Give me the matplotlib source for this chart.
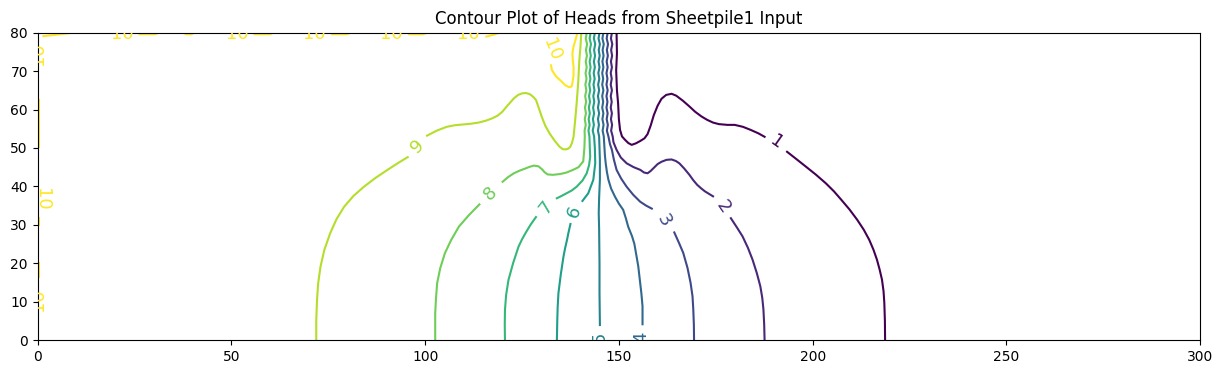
import matplotlib
matplotlib.use('Agg')
from matplotlib import pyplot as plt
from matplotlib.colors import Normalize

# contour levels of head
levels = [1, 2, 3, 4, 5, 6, 7, 8, 9, 10]

# wavy part of the lines along the sheet pile (shared y values)
wave_y = [80, 78.5, 77, 75.5, 74, 72.5, 71, 69.5, 68, 66.5, 65, 63.5, 62, 60.5, 59, 57.5, 56, 54.5, 53]
x8w = [141.7, 141.45, 141.8, 141.5, 141.75, 141.45, 141.7, 141.4, 141.65, 141.35, 141.6, 141.3, 141.55, 141.25, 141.5, 141.2, 141.45, 141.15, 141.2]
x7w = [142.7, 142.45, 142.8, 142.5, 142.75, 142.45, 142.7, 142.4, 142.65, 142.35, 142.6, 142.3, 142.55, 142.25, 142.5, 142.2, 142.45, 142.15, 142.4]
x6w = [143.8, 143.55, 143.9, 143.6, 143.85, 143.55, 143.8, 143.5, 143.75, 143.45, 143.7, 143.4, 143.65, 143.35, 143.6, 143.3, 143.55, 143.25, 143.6]
x5w = [145.0, 144.75, 145.1, 144.8, 145.05, 144.75, 145.0, 144.7, 144.95, 144.65, 144.9, 144.6, 144.85, 144.6, 144.9, 144.6, 144.85, 144.6, 144.9]
x4w = [146.0, 145.75, 146.1, 145.8, 146.05, 145.75, 146.0, 145.7, 145.95, 145.7, 146.0, 145.7, 145.95, 145.7, 146.0, 145.75, 146.05, 145.8, 146.1]
x3w = [147.1, 146.85, 147.2, 146.9, 147.15, 146.85, 147.1, 146.8, 147.05, 146.8, 147.1, 146.8, 147.05, 146.8, 147.1, 146.85, 147.15, 146.9, 147.3]
x2w = [148.2, 147.95, 148.3, 148.0, 148.25, 147.95, 148.2, 147.9, 148.15, 147.9, 148.2, 147.9, 148.15, 147.9, 148.2, 147.95, 148.25, 148.0, 148.4]

# rest of each contour, as (x, y) pieces split where the labels sit
c1 = [
    [(149.4, 80), (149.5, 74.6), (149.3, 70.2), (149.5, 65), (149.8, 61.6), (150, 57.5), (150.3, 54.7),
     (150.8, 53), (151.6, 52.1), (152.4, 51.3), (153.3, 50.8), (154.4, 51.2), (155.5, 51.8), (156.6, 52.5),
     (157.4, 53.6), (158.2, 55.8), (159, 58.5), (160, 61), (161, 62.8), (162.2, 63.8), (163.6, 64.1),
     (164.8, 63.6), (166.5, 62.3), (168.2, 60.8), (169.7, 59.4), (171.3, 58.2), (172.8, 57.3), (174.3, 56.6),
     (175.8, 56.2), (178, 56), (179.9, 56), (182, 55.5), (184, 54.7), (186, 53.8), (187.6, 52.9)],
    [(193.4, 49), (195.8, 47.1), (198.3, 45.1), (200.9, 43), (203.4, 40.8), (205.5, 38.7), (207.4, 36.5),
     (209.5, 34), (211.5, 31.3), (213.2, 28.7), (214.6, 26.1), (215.7, 23.5), (216.6, 20.9), (217.3, 18.3),
     (217.9, 15.7), (218.3, 12.7), (218.5, 9.7), (218.65, 5), (218.7, 0)],
]
c2 = [
    [(148.4, 53), (148.6, 51.5), (149.4, 49.5), (150.5, 47.5), (152, 46), (153.8, 45), (155.5, 44.3),
     (156.5, 43.6), (157.4, 43.4), (158.2, 44), (159, 44.8), (160, 45.8), (161, 46.4), (162.3, 46.9),
     (163.6, 47), (164.7, 46.6), (165.6, 46), (166.9, 44.6), (168.2, 43), (169.2, 41.6), (170.2, 40.4),
     (171.2, 39.5), (172.2, 38.7), (174.3, 37.4)],
    [(178.9, 31.7), (180.4, 29.4), (181.9, 27), (183.3, 24), (184.5, 20.9), (185.6, 17.4), (186.5, 14),
     (187, 11), (187.3, 8), (187.5, 4), (187.6, 0)],
]
c3 = [
    [(147.3, 53), (147.7, 51), (148.2, 49.5), (148.7, 47), (149.4, 44.3), (150.6, 42), (152, 39.9),
     (153.7, 37.8), (155.5, 36), (157, 35), (158.5, 34.2)],
    [(164.3, 28), (165.5, 25.3), (166.6, 22.7), (167.7, 18.8), (168.5, 14.9), (169, 11.4), (169.2, 8),
     (169.35, 4), (169.4, 0)],
]
c4 = [
    [(146.1, 53), (146.4, 48), (146.6, 46), (146.9, 43.8), (147.3, 41.7), (148, 39.4), (149, 37.3),
     (150, 35.5), (151.1, 33.9), (151.8, 31.7), (152.4, 29.5), (153.4, 27), (154, 25), (154.4, 22.7),
     (155, 19.2), (155.4, 15.7), (155.8, 12.2), (156.1, 8.8), (156.1, 4.1)],
]
c5 = [
    [(144.9, 53), (145, 50), (145.1, 46.9), (145.1, 41.7), (144.9, 37), (144.8, 33), (144.9, 29), (145, 20),
     (145, 12.2), (145.1, 3.9)],
]
c6 = [
    [(143.6, 53), (143.8, 50), (143.9, 46), (143.4, 41.7), (142.1, 38.2), (140.6, 36.2)],
    [(137.5, 30.2), (137, 28), (136.6, 26), (136.1, 23.8), (135.7, 21.7), (135, 17), (134.4, 12.2),
     (134.2, 8.5), (134.1, 5), (134, 0)],
]
c7 = [
    [(142.4, 53), (142.5, 50), (142.6, 47.7), (142.3, 45.5), (141.7, 43.4), (140.6, 41.5), (139.1, 39.9),
     (137.8, 38.9), (136.5, 38.2), (135.2, 37.5), (134, 36.9)],
    [(128.6, 32), (127.2, 30), (126, 28), (125, 26.2), (124.1, 24.3), (122.7, 20), (121.5, 15.6),
     (120.9, 11.7), (120.6, 7.8), (120.55, 4), (120.6, 0)],
]
c8 = [
    [(141.2, 53), (141.1, 50), (140.8, 46.5), (139.6, 45), (138.2, 44.3), (136.5, 43.6), (134.8, 43.2),
     (133, 43), (131.6, 43.1), (130.8, 43.7), (130.3, 44.3), (129.3, 45.2), (128.1, 45.4), (127, 45.1),
     (126, 44.7), (124.4, 44.1), (122.9, 43.4), (121.4, 42.4), (120, 41.2)],
    [(114, 35.3), (111.2, 32.4), (108.7, 29.5), (106.7, 26), (105.1, 22.6), (103.9, 18.7), (103.1, 14.8),
     (102.8, 10.8), (102.6, 6.9), (102.6, 0)],
]
c9 = [
    [(71.9, 0), (71.9, 5), (72.1, 10.4), (72.4, 14.8), (73, 19.1), (74, 23.5), (75.5, 27.8), (77.1, 31.4),
     (79.1, 34.7), (81.5, 37.5), (84.2, 39.9), (87.2, 42.2), (90.3, 44.3), (92.9, 46), (95.5, 47.6)],
    [(100.5, 53.2), (103, 54.5), (105.6, 55.5), (107.6, 55.9), (109.7, 56.1), (111.8, 56.3), (113.8, 56.6),
     (115.7, 57.1), (117.3, 57.7), (118.7, 58.4), (119.9, 59.4), (121.4, 61.2), (122.9, 62.9), (124, 63.8),
     (125, 64.2), (126, 64.3), (127, 64), (127.9, 63.3), (128.6, 62.5), (129.3, 60.5), (130.1, 58.1),
     (131, 55.8), (132.1, 53.8), (133.4, 51.9), (134.7, 50.3), (135.5, 49.7), (136.2, 49.6), (136.9, 49.8),
     (137.4, 50.2), (137.9, 51.3), (138.3, 52.9), (138.7, 57), (139.1, 61.6), (139.5, 67), (139.8, 72.9),
     (140.1, 76.5), (140.3, 80)],
]
c10 = [
    [(1.5, 79.1), (9.2, 80.0), (17.5, 80.1)],
    [(26.3, 79.6), (30.2, 79.6), (32, 80.2), (37.5, 80.2), (38.3, 79.6), (39.8, 79.6), (40.5, 80.2), (46.5, 80.2)],
    [(56, 79.6), (59.8, 79.6), (61.5, 80.2), (66.5, 80.2)],
    [(76, 79.6), (79.7, 79.6), (81.5, 80.2), (86.5, 80.2)],
    [(95.9, 79.6), (99.5, 79.6), (101, 80.2), (106.5, 80.2)],
    [(115.8, 79.0), (117.8, 79.5), (119.4, 80.1)],
    [(132.5, 71.5), (132.7, 70.3), (133.8, 68.6), (135.2, 67.3), (136.2, 66.3), (137.2, 65.8), (137.8, 66),
     (138, 66.8), (138.3, 68.9), (138.3, 71.1), (138.1, 73), (138, 74.6), (138.3, 76.4), (138.8, 78.1),
     (139.3, 80)],
    [(0.25, 62.5), (0.25, 50.3)],
    [(0.25, 31.8), (0.25, 30)],
    [(0.25, 20), (0.25, 16.4)],
]

# label (x, y, rotation) per level
lab1 = [(190.6, 51.4, -35)]
lab2 = [(176.8, 34.6, -55)]
lab3 = [(161.6, 31.2, -60)]
lab4 = [(155.8, 0.6, 90)]
lab5 = [(144.9, 0.6, 90)]
lab6 = [(138.6, 33.4, 68)]
lab7 = [(131.2, 34.6, 52)]
lab8 = [(116.9, 38.2, 45)]
lab9 = [(98.0, 50.4, 45)]
lab10 = [(21.9, 79.7, 0), (51.5, 79.7, 0), (71.4, 79.7, 0), (91.3, 79.7, 0), (111.2, 79.7, 0),
         (132.6, 75.5, -68), (0.2, 74.5, 90), (1.0, 36.5, -90), (0.2, 10.5, 90)]

waves = {8: x8w, 7: x7w, 6: x6w, 5: x5w, 4: x4w, 3: x3w, 2: x2w}
pieces = {1: c1, 2: c2, 3: c3, 4: c4, 5: c5, 6: c6, 7: c7, 8: c8, 9: c9, 10: c10}
labels = {1: lab1, 2: lab2, 3: lab3, 4: lab4, 5: lab5, 6: lab6, 7: lab7, 8: lab8, 9: lab9, 10: lab10}


def plot():
    fig = plt.figure(figsize=(12.22, 3.74), dpi=100)
    ax = fig.add_axes([0.0308, 0.0909, 0.9513, 0.8217])
    cmap = plt.get_cmap('viridis')
    norm = Normalize(vmin=levels[0], vmax=levels[-1])

    for lev in levels:
        col = cmap(norm(lev))
        segs = pieces[lev]
        for i, seg in enumerate(segs):
            xs = [p[0] for p in seg]
            ys = [p[1] for p in seg]
            # the wavy top part joins on to the first piece
            if i == 0 and lev in waves:
                xs = waves[lev] + xs
                ys = wave_y + ys
            ax.plot(xs, ys, color=col, lw=1.5)
        for (x, y, r) in labels[lev]:
            ax.text(x, y, str(lev), color=col, fontsize=13, rotation=r,
                    rotation_mode='anchor', ha='center', va='center', clip_on=True)

    ax.set_xlim(0, 300)
    ax.set_ylim(0, 80)
    ax.set_title('Contour Plot of Heads from Sheetpile1 Input')
    fig.savefig('out.png', dpi=100)


if __name__ == '__main__':
    plot()
